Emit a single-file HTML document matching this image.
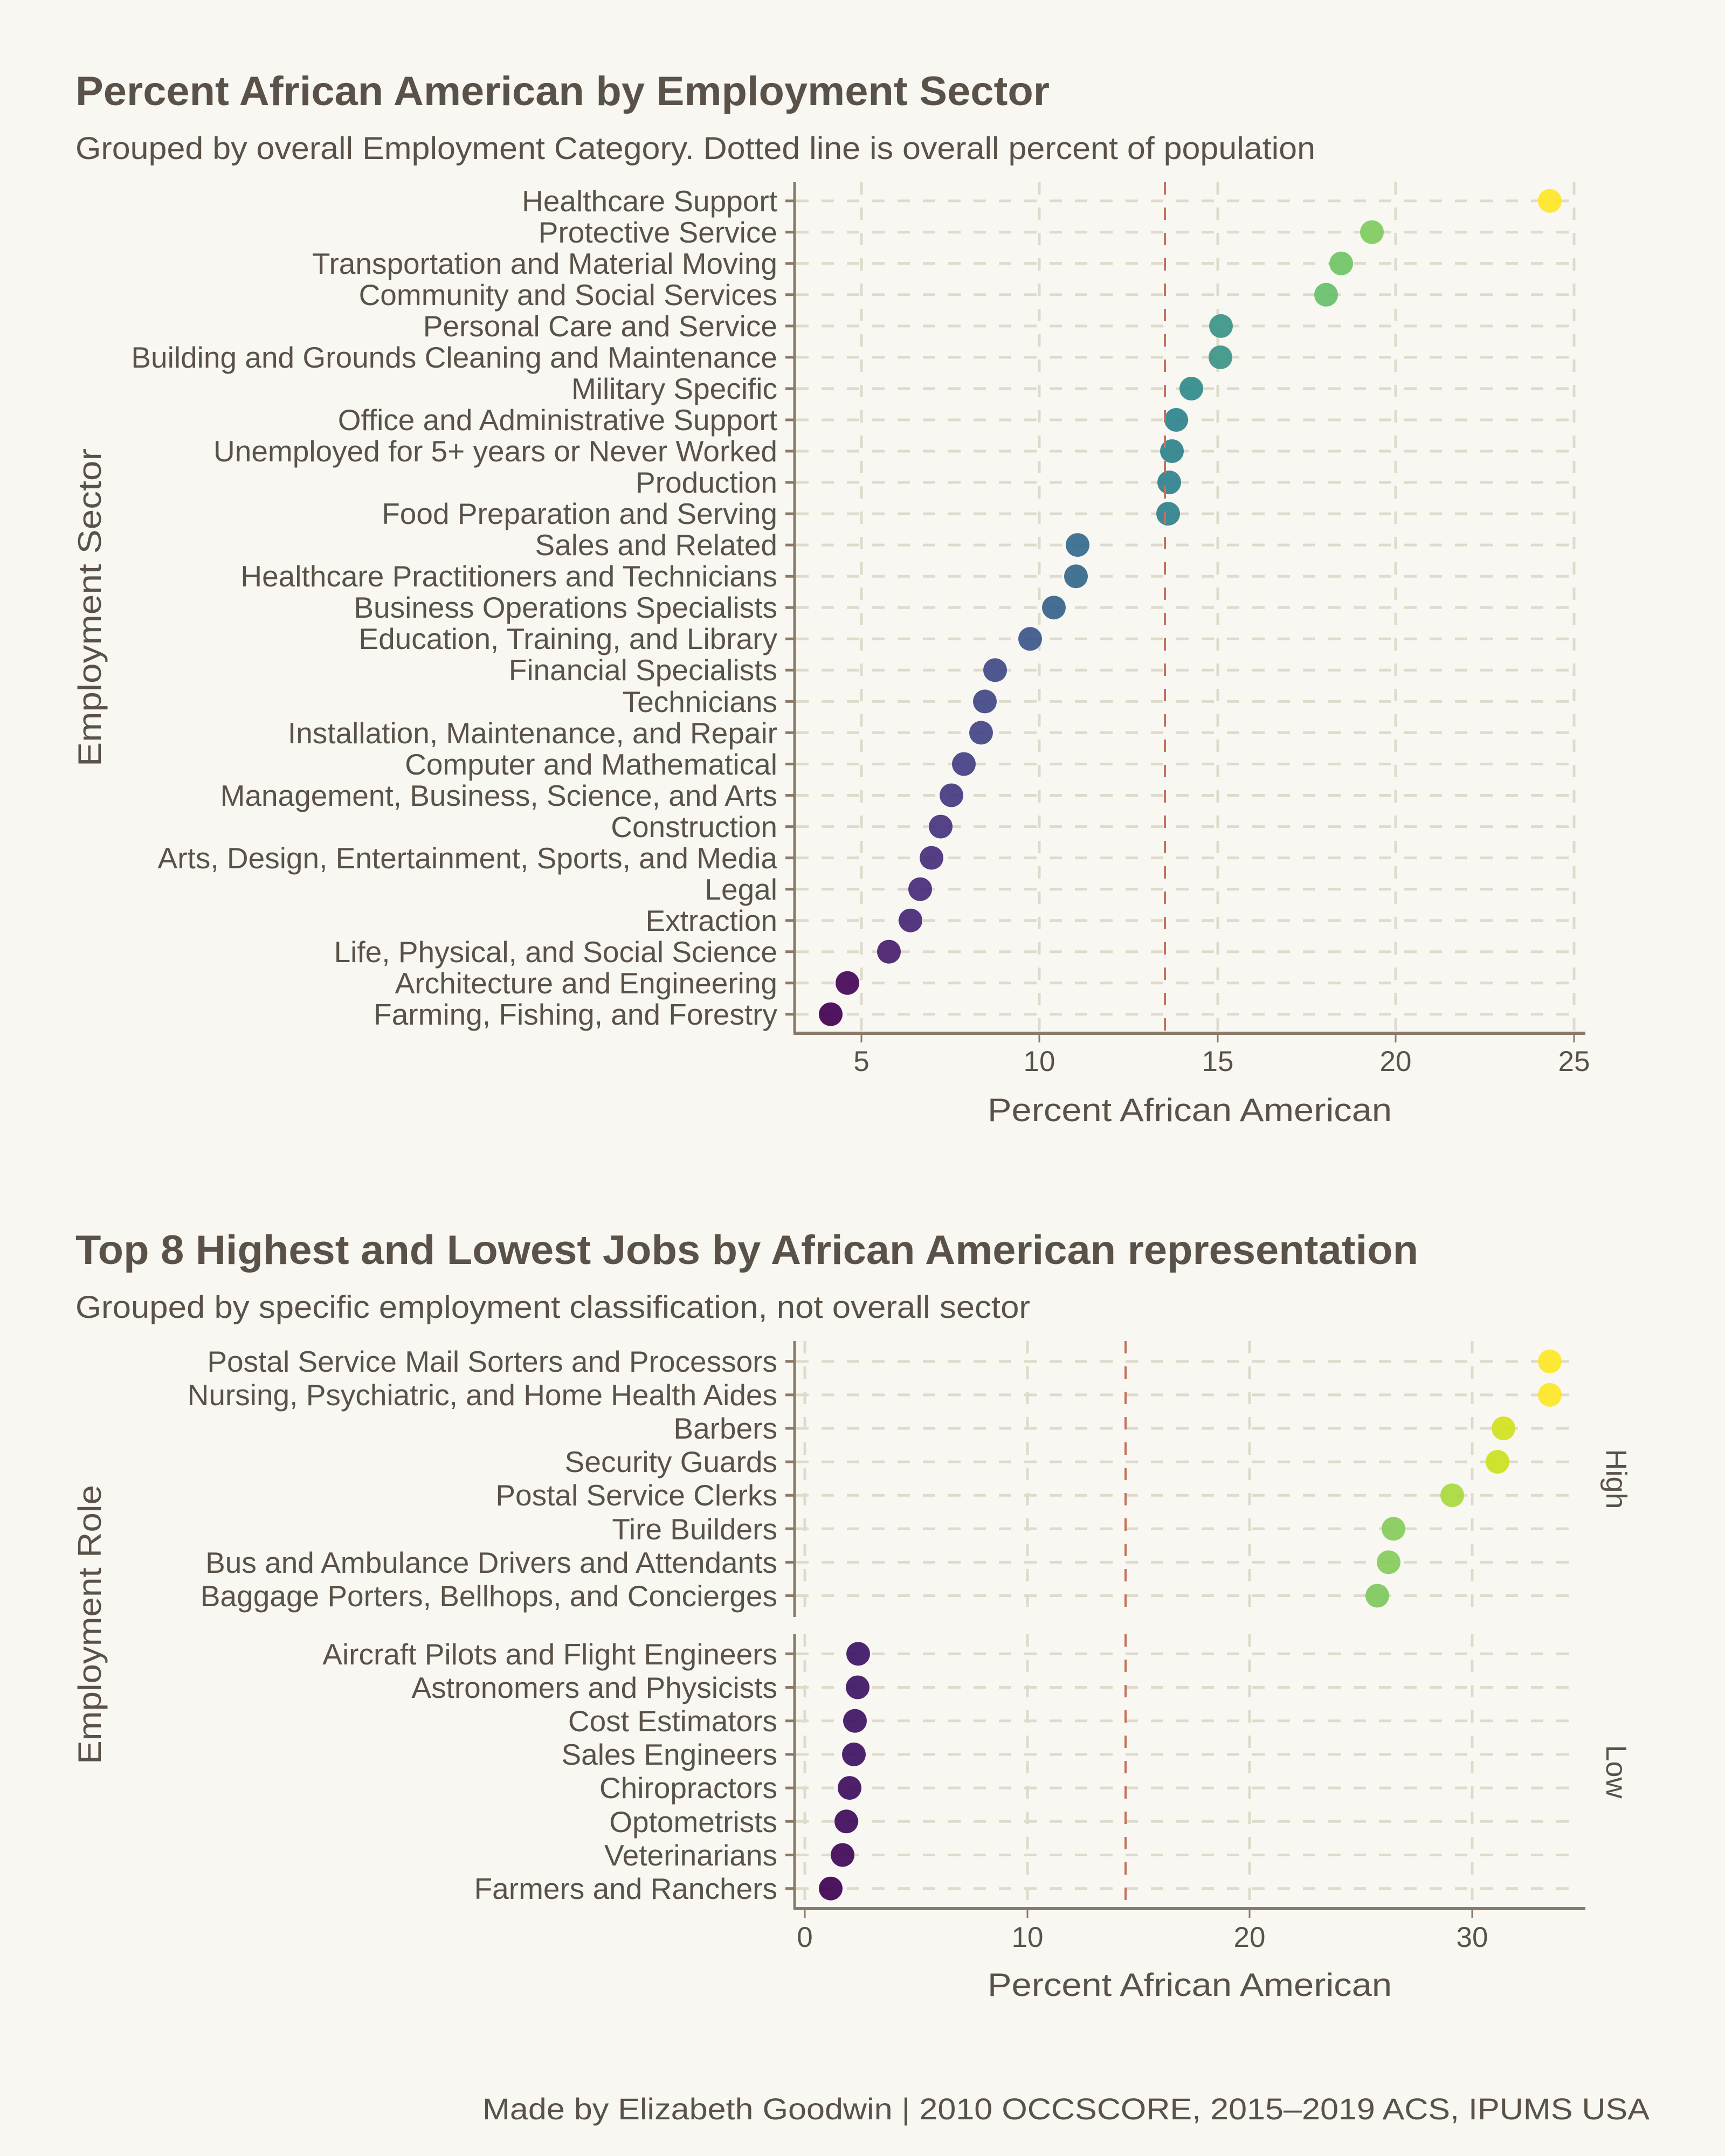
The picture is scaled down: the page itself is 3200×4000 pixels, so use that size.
<!DOCTYPE html>
<html><head><meta charset="utf-8"><style>
html,body{margin:0;padding:0;background:#f9f7f2}
svg{display:block}
text{font-family:"Liberation Sans",Arial,sans-serif;fill:#5a5248}
.yl{font-size:55px;text-anchor:end}
.xt{font-size:53px;text-anchor:middle}
.g{stroke:#dedbcb;stroke-width:5;stroke-dasharray:23 24;fill:none}
.r{stroke:#c5705a;stroke-width:4;stroke-dasharray:23 24;fill:none}
.ax{stroke:#8a7a68;fill:none}
circle{stroke:none;opacity:0.92}
</style></head><body>
<svg width="3200" height="4000" viewBox="0 0 3200 4000" xmlns="http://www.w3.org/2000/svg">
<rect width="3200" height="4000" fill="#f9f7f2"/>
<text x="140" y="195" font-size="76" font-weight="bold" textLength="1807" lengthAdjust="spacingAndGlyphs">Percent African American by Employment Sector</text>
<text x="140" y="295" font-size="58" textLength="2300" lengthAdjust="spacingAndGlyphs">Grouped by overall Employment Category. Dotted line is overall percent of population</text>

<!-- TOP PANEL -->
<g class="g">
<path d="M1598 338V1917M1928 338V1917M2259 338V1917M2589 338V1917M2920 338V1917"/>
<path d="M1477 372.7H2922M1477 430.7H2922M1477 488.8H2922M1477 546.8H2922M1477 604.9H2922M1477 662.9H2922M1477 721H2922M1477 779H2922M1477 837H2922M1477 895H2922M1477 953.1H2922M1477 1011.1H2922M1477 1069.2H2922M1477 1127.2H2922M1477 1185.3H2922M1477 1243.3H2922M1477 1301.4H2922M1477 1359.4H2922M1477 1417.5H2922M1477 1475.5H2922M1477 1533.6H2922M1477 1591.6H2922M1477 1649.7H2922M1477 1707.7H2922M1477 1765.7H2922M1477 1823.7H2922M1477 1881.7H2922"/>
</g>
<g>
<circle cx="2875" cy="372.7" r="22" fill="#fde725"/>
<circle cx="2545" cy="430.7" r="22" fill="#7ecb5e"/>
<circle cx="2488" cy="488.8" r="22" fill="#6fc466"/>
<circle cx="2460" cy="546.8" r="22" fill="#66bf6c"/>
<circle cx="2265" cy="604.9" r="22" fill="#3b9488"/>
<circle cx="2264" cy="662.9" r="22" fill="#3b9488"/>
<circle cx="2210" cy="721" r="22" fill="#2f8a8a"/>
<circle cx="2182" cy="779" r="22" fill="#2d848c"/>
<circle cx="2174" cy="837" r="22" fill="#2d828c"/>
<circle cx="2169" cy="895" r="22" fill="#2e808d"/>
<circle cx="2167" cy="953.1" r="22" fill="#2e808d"/>
<circle cx="1999" cy="1011.1" r="22" fill="#336a8c"/>
<circle cx="1996" cy="1069.2" r="22" fill="#34688c"/>
<circle cx="1955" cy="1127.2" r="22" fill="#36628b"/>
<circle cx="1911" cy="1185.3" r="22" fill="#3b568a"/>
<circle cx="1846" cy="1243.3" r="22" fill="#3f4a87"/>
<circle cx="1827" cy="1301.4" r="22" fill="#404686"/>
<circle cx="1820" cy="1359.4" r="22" fill="#414485"/>
<circle cx="1788" cy="1417.5" r="22" fill="#433e83"/>
<circle cx="1765" cy="1475.5" r="22" fill="#443880"/>
<circle cx="1745" cy="1533.6" r="22" fill="#45337d"/>
<circle cx="1728" cy="1591.6" r="22" fill="#462e7a"/>
<circle cx="1707" cy="1649.7" r="22" fill="#462a78"/>
<circle cx="1689" cy="1707.7" r="22" fill="#472675"/>
<circle cx="1649" cy="1765.7" r="22" fill="#471d6d"/>
<circle cx="1572" cy="1823.7" r="22" fill="#440757"/>
<circle cx="1541" cy="1881.7" r="22" fill="#420152"/>
</g>
<path class="r" d="M2161 338V1917"/>
<path class="ax" stroke-width="5" d="M1474 338V1917"/>
<path class="ax" stroke-width="6" d="M1472 1917H2941"/>
<path class="ax" stroke-width="3" d="M1598 1917V1934M1928 1917V1934M2259 1917V1934M2589 1917V1934M2920 1917V1934"/>
<path class="ax" stroke-width="5" d="M1457 372.7H1474M1457 430.7H1474M1457 488.8H1474M1457 546.8H1474M1457 604.9H1474M1457 662.9H1474M1457 721H1474M1457 779H1474M1457 837H1474M1457 895H1474M1457 953.1H1474M1457 1011.1H1474M1457 1069.2H1474M1457 1127.2H1474M1457 1185.3H1474M1457 1243.3H1474M1457 1301.4H1474M1457 1359.4H1474M1457 1417.5H1474M1457 1475.5H1474M1457 1533.6H1474M1457 1591.6H1474M1457 1649.7H1474M1457 1707.7H1474M1457 1765.7H1474M1457 1823.7H1474M1457 1881.7H1474"/>
<g>
<text class="yl" x="1442" y="392">Healthcare Support</text>
<text class="yl" x="1442" y="450">Protective Service</text>
<text class="yl" x="1442" y="508">Transportation and Material Moving</text>
<text class="yl" x="1442" y="566">Community and Social Services</text>
<text class="yl" x="1442" y="624">Personal Care and Service</text>
<text class="yl" x="1442" y="682">Building and Grounds Cleaning and Maintenance</text>
<text class="yl" x="1442" y="740">Military Specific</text>
<text class="yl" x="1442" y="798">Office and Administrative Support</text>
<text class="yl" x="1442" y="856">Unemployed for 5+ years or Never Worked</text>
<text class="yl" x="1442" y="914">Production</text>
<text class="yl" x="1442" y="972">Food Preparation and Serving</text>
<text class="yl" x="1442" y="1030">Sales and Related</text>
<text class="yl" x="1442" y="1088">Healthcare Practitioners and Technicians</text>
<text class="yl" x="1442" y="1146">Business Operations Specialists</text>
<text class="yl" x="1442" y="1204">Education, Training, and Library</text>
<text class="yl" x="1442" y="1262">Financial Specialists</text>
<text class="yl" x="1442" y="1321">Technicians</text>
<text class="yl" x="1442" y="1379">Installation, Maintenance, and Repair</text>
<text class="yl" x="1442" y="1437">Computer and Mathematical</text>
<text class="yl" x="1442" y="1495">Management, Business, Science, and Arts</text>
<text class="yl" x="1442" y="1553">Construction</text>
<text class="yl" x="1442" y="1611">Arts, Design, Entertainment, Sports, and Media</text>
<text class="yl" x="1442" y="1669">Legal</text>
<text class="yl" x="1442" y="1727">Extraction</text>
<text class="yl" x="1442" y="1785">Life, Physical, and Social Science</text>
<text class="yl" x="1442" y="1843">Architecture and Engineering</text>
<text class="yl" x="1442" y="1901">Farming, Fishing, and Forestry</text>
</g>
<text class="xt" x="1598" y="1987">5</text>
<text class="xt" x="1928" y="1987">10</text>
<text class="xt" x="2259" y="1987">15</text>
<text class="xt" x="2589" y="1987">20</text>
<text class="xt" x="2920" y="1987">25</text>
<text x="2207" y="2080" font-size="60" text-anchor="middle" textLength="750" lengthAdjust="spacingAndGlyphs">Percent African American</text>
<text transform="translate(187,1127) rotate(-90)" font-size="60" text-anchor="middle" textLength="590" lengthAdjust="spacingAndGlyphs">Employment Sector</text>

<!-- BOTTOM -->
<text x="140" y="2345" font-size="76" font-weight="bold" textLength="2491" lengthAdjust="spacingAndGlyphs">Top 8 Highest and Lowest Jobs by African American representation</text>
<text x="140" y="2445" font-size="58" textLength="1771" lengthAdjust="spacingAndGlyphs">Grouped by specific employment classification, not overall sector</text>

<g class="g">
<path d="M1493 2488V3000M1906 2488V3000M2318 2488V3000M2731 2488V3000"/>
<path d="M1493 3032V3541M1906 3032V3541M2318 3032V3541M2731 3032V3541"/>
<path d="M1477 2525.8H2922M1477 2587.9H2922M1477 2650H2922M1477 2712.1H2922M1477 2774.2H2922M1477 2836.3H2922M1477 2898.4H2922M1477 2960.5H2922"/>
<path d="M1477 3068.3H2922M1477 3130.5H2922M1477 3192.7H2922M1477 3254.9H2922M1477 3317.1H2922M1477 3379.3H2922M1477 3441.5H2922M1477 3503.7H2922"/>
</g>
<g>
<circle cx="2875" cy="2525.8" r="22" fill="#fde725"/>
<circle cx="2875" cy="2587.9" r="22" fill="#fde725"/>
<circle cx="2789" cy="2650" r="22" fill="#d0e11c"/>
<circle cx="2778" cy="2712.1" r="22" fill="#cae11f"/>
<circle cx="2694" cy="2774.2" r="22" fill="#a8d93d"/>
<circle cx="2585" cy="2836.3" r="22" fill="#86cc5a"/>
<circle cx="2576" cy="2898.4" r="22" fill="#84cb5c"/>
<circle cx="2555" cy="2960.5" r="22" fill="#7ec85e"/>
<circle cx="1592" cy="3068.3" r="22" fill="#3d1465"/>
<circle cx="1591" cy="3130.5" r="22" fill="#3d1465"/>
<circle cx="1586" cy="3192.7" r="22" fill="#3d1263"/>
<circle cx="1584" cy="3254.9" r="22" fill="#3d1162"/>
<circle cx="1576" cy="3317.1" r="22" fill="#3e0d5e"/>
<circle cx="1570" cy="3379.3" r="22" fill="#3e0a5b"/>
<circle cx="1563" cy="3441.5" r="22" fill="#3f0758"/>
<circle cx="1541" cy="3503.7" r="22" fill="#3e0152"/>
</g>
<path class="r" d="M2088 2488V3000M2088 3032V3541"/>
<path class="ax" stroke-width="5" d="M1474 2488V3000M1474 3032V3541"/>
<path class="ax" stroke-width="6" d="M1472 3541H2941"/>
<path class="ax" stroke-width="3" d="M1493 3541V3558M1906 3541V3558M2318 3541V3558M2731 3541V3558"/>
<path class="ax" stroke-width="5" d="M1457 2525.8H1474M1457 2587.9H1474M1457 2650H1474M1457 2712.1H1474M1457 2774.2H1474M1457 2836.3H1474M1457 2898.4H1474M1457 2960.5H1474M1457 3068.3H1474M1457 3130.5H1474M1457 3192.7H1474M1457 3254.9H1474M1457 3317.1H1474M1457 3379.3H1474M1457 3441.5H1474M1457 3503.7H1474"/>
<text class="yl" x="1442" y="2545">Postal Service Mail Sorters and Processors</text>
<text class="yl" x="1442" y="2607">Nursing, Psychiatric, and Home Health Aides</text>
<text class="yl" x="1442" y="2669">Barbers</text>
<text class="yl" x="1442" y="2731">Security Guards</text>
<text class="yl" x="1442" y="2793">Postal Service Clerks</text>
<text class="yl" x="1442" y="2856">Tire Builders</text>
<text class="yl" x="1442" y="2918">Bus and Ambulance Drivers and Attendants</text>
<text class="yl" x="1442" y="2980">Baggage Porters, Bellhops, and Concierges</text>
<text class="yl" x="1442" y="3088">Aircraft Pilots and Flight Engineers</text>
<text class="yl" x="1442" y="3150">Astronomers and Physicists</text>
<text class="yl" x="1442" y="3212">Cost Estimators</text>
<text class="yl" x="1442" y="3274">Sales Engineers</text>
<text class="yl" x="1442" y="3336">Chiropractors</text>
<text class="yl" x="1442" y="3399">Optometrists</text>
<text class="yl" x="1442" y="3461">Veterinarians</text>
<text class="yl" x="1442" y="3523">Farmers and Ranchers</text>
<text transform="translate(2980,2744) rotate(90)" font-size="54" text-anchor="middle">High</text>
<text transform="translate(2980,3287) rotate(90)" font-size="54" text-anchor="middle">Low</text>
<text class="xt" x="1493" y="3612">0</text>
<text class="xt" x="1906" y="3612">10</text>
<text class="xt" x="2318" y="3612">20</text>
<text class="xt" x="2731" y="3612">30</text>
<text x="2207" y="3703" font-size="60" text-anchor="middle" textLength="750" lengthAdjust="spacingAndGlyphs">Percent African American</text>
<text transform="translate(187,3014) rotate(-90)" font-size="60" text-anchor="middle" textLength="518" lengthAdjust="spacingAndGlyphs">Employment Role</text>

<text x="3060" y="3932" font-size="56" text-anchor="end" textLength="2165" lengthAdjust="spacingAndGlyphs">Made by Elizabeth Goodwin | 2010 OCCSCORE, 2015–2019 ACS, IPUMS USA</text>
</svg>
</body></html>
